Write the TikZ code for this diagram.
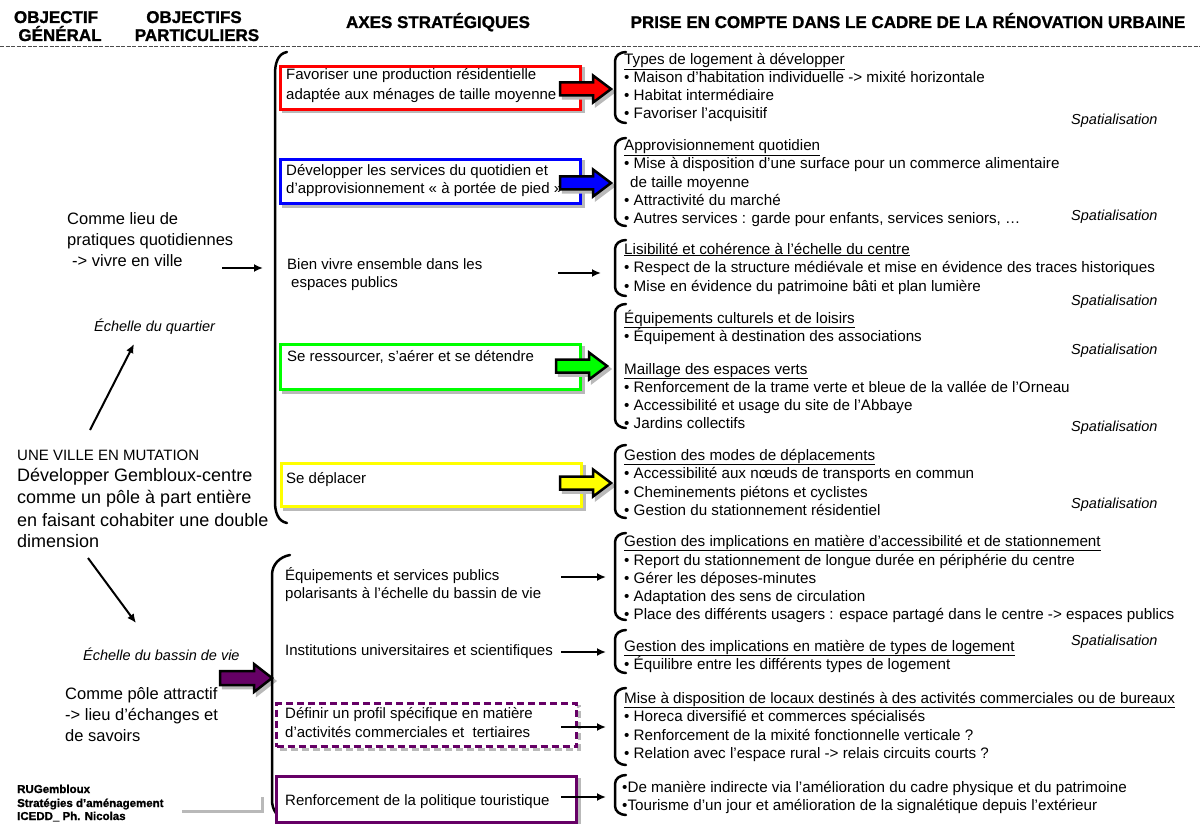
\documentclass[tikz,border=0pt]{standalone}
\usepackage{fontspec}
\setmainfont{Liberation Sans}
\usetikzlibrary{arrows.meta,calc}
\definecolor{pur}{RGB}{102,0,102}
\definecolor{shd}{RGB}{185,185,185}
\definecolor{grn}{RGB}{0,255,0}
\definecolor{yel}{RGB}{255,255,0}
\definecolor{rd}{RGB}{255,0,0}
\definecolor{bl}{RGB}{0,0,255}
\newcommand\tl[5]{\node[#1] (#2) at (#3,#4) {#5};}
\newcommand\brkt[4]{\draw[brk] (#2,#3) to[out=180,in=90] (#1,#3+9) -- (#1,#4-9) to[out=-90,in=180] (#2,#4);}
\newcommand\fatarr[4]{%
 \coordinate (#1) at (#2,#3);
 \filldraw[shd,line width=2.5pt,line join=miter] ([shift={(3,3)}]#1) ++(0,-6.5) -- ++(33,0) -- ++(0,-7) -- ++(18,13.5) -- ++(-18,13.5) -- ++(0,-7) -- ++(-33,0) -- cycle;
 \draw[line width=2.5pt,line join=miter,fill=#4] (#1) ++(0,-6.5) -- ++(33,0) -- ++(0,-7) -- ++(18,13.5) -- ++(-18,13.5) -- ++(0,-7) -- ++(-33,0) -- cycle;}
\newcommand\cbox[7]{% name, x1,y1,x2,y2, colour, extra style
 \path (#2,#3) coordinate (#1nw) (#4,#5) coordinate (#1se);
 \draw[shd,line width=3pt,#7] ([shift={(4,4)}]#1nw) rectangle ([shift={(4,4)}]#1se);
 \node[inner sep=0pt,anchor=north west,minimum width=#4-#2,minimum height=#5-#3,fill=white,line width=3pt,draw=#6,#7] (#1) at (#1nw) {};}
\begin{document}
\begin{tikzpicture}[x=1pt,y=-1pt,
 rtxt/.style={anchor=base west,inner sep=0pt,font=\fontsize{15.2}{17}\selectfont},
 mtxt/.style={anchor=base west,inner sep=0pt,font=\fontsize{15}{17}\selectfont},
 ltxt/.style={anchor=base west,inner sep=0pt,font=\fontsize{16.5}{19}\selectfont},
 btxt/.style={anchor=base west,inner sep=0pt,font=\fontsize{18}{21}\selectfont},
 itxt/.style={anchor=base west,inner sep=0pt,font=\fontsize{14.5}{17}\selectfont\itshape},
 spat/.style={anchor=base west,inner sep=0pt,font=\fontsize{14.5}{17}\selectfont\itshape},
 ftxt/.style={anchor=base west,inner sep=0pt,font=\fontsize{11.5}{13}\selectfont\bfseries\addfontfeature{FakeBold=1.2}},
 hdr/.style={anchor=base,inner sep=0pt,font=\fontsize{17}{19}\selectfont\bfseries\addfontfeature{FakeBold=1.2}},
 thinarr/.style={line width=2pt,-{Latex[length=9pt,width=8pt]}},
 brk/.style={line width=2.5pt,line cap=round},
]
\useasboundingbox (0,0) rectangle (1200,824);
% headers
\tl{hdr}{h1a}{56}{23}{OBJECTIF}
\tl{hdr}{h1b}{60}{41}{GÉNÉRAL}
\tl{hdr}{h2a}{194}{23}{OBJECTIFS}
\tl{hdr}{h2b}{197}{41}{PARTICULIERS}
\tl{hdr}{h3}{438}{28}{AXES STRATÉGIQUES}
\tl{hdr}{h4}{908}{28}{PRISE EN COMPTE DANS LE CADRE DE LA RÉNOVATION URBAINE}
\coordinate (dl1) at (0,47); \coordinate (dl2) at (1200,47);
\draw[line width=1pt,black!70,dash pattern=on 4pt off 1.5pt] (dl1) -- (dl2);

% left column
\tl{ltxt}{c1a}{67}{224}{Comme lieu de}
\tl{ltxt}{c1b}{67}{245}{pratiques quotidiennes}
\tl{ltxt}{c1c}{72}{266}{-> vivre en ville}
\tl{itxt}{eq}{94}{331}{Échelle du quartier}
\tl{anchor=base west,inner sep=0pt,font=\fontsize{15}{17}\selectfont}{uv}{17}{460}{UNE VILLE EN MUTATION}
\tl{btxt}{g1}{17}{481}{Développer Gembloux-centre}
\tl{btxt}{g2}{17}{503}{comme un pôle à part entière}
\tl{btxt}{g3}{17}{526}{en faisant cohabiter une double}
\tl{btxt}{g4}{17}{547}{dimension}
\tl{itxt}{eb}{83}{660}{Échelle du bassin de vie}
\tl{ltxt}{c2a}{65}{699}{Comme pôle attractif}
\tl{ltxt}{c2b}{65}{720}{-> lieu d’échanges et}
\tl{ltxt}{c2c}{65}{741}{de savoirs}
\tl{ftxt}{f1}{17}{793}{RUGembloux}
\tl{ftxt}{f2}{17}{807}{Stratégies d’aménagement}
\tl{ftxt}{f3}{17}{820}{ICEDD\_ Ph. Nicolas}
\coordinate (gl1) at (182,811); \coordinate (gl2) at (262,811); \coordinate (gl3) at (262,797);
\draw[shd,line width=3pt] (gl1) -- (gl2) -- (gl3);

% left arrows
\coordinate (la1s) at (222,268); \coordinate (la1e) at (263,268);
\draw[thinarr] (la1s) -- (la1e);
\coordinate (la2s) at (90,430); \coordinate (la2e) at (134,344);
\draw[thinarr] (la2s) -- (la2e);
\coordinate (la3s) at (88,558); \coordinate (la3e) at (136,623);
\draw[thinarr] (la3s) -- (la3e);
% purple fat arrow
\coordinate (pa) at (220,678);
\filldraw[shd,line width=2.5pt,line join=miter] ([shift={(3,3)}]pa) ++(0,-7) -- ++(34,0) -- ++(0,-7) -- ++(18,14) -- ++(-18,14) -- ++(0,-7) -- ++(-34,0) -- cycle;
\draw[line width=2.5pt,line join=miter,fill=pur] (pa) ++(0,-7) -- ++(34,0) -- ++(0,-7) -- ++(18,14) -- ++(-18,14) -- ++(0,-7) -- ++(-34,0) -- cycle;

% big brackets
\draw[brk] (287,52) to[out=190,in=90] (275,74) -- (275,502) to[out=-90,in=170] (287,523);
\draw[brk] (290,555) to[out=190,in=90] (272,575) -- (272,800) to[out=-90,in=170] (287,820);

% boxes
\cbox{bx1}{279}{65}{579}{108}{rd}{}
\cbox{bx2}{279}{158}{579}{202}{bl}{}
\cbox{bx4}{279}{343}{579}{388}{grn}{}
\cbox{bx5}{280}{462}{580}{505}{yel}{}
\cbox{bx8}{275}{702}{575}{745}{pur}{dash pattern=on 7pt off 4pt}
\cbox{bx9}{275}{775}{575}{821}{pur}{}

% middle texts
\tl{mtxt}{m1a}{286}{79.5}{Favoriser une production résidentielle}
\tl{mtxt}{m1b}{286}{99.5}{adaptée aux ménages de taille moyenne}
\tl{mtxt}{m2a}{286}{175.5}{Développer les services du quotidien et}
\tl{mtxt}{m2b}{286}{193.5}{d’approvisionnement « à portée de pied »}
\tl{mtxt}{m3a}{287}{269.5}{Bien vivre ensemble dans les}
\tl{mtxt}{m3b}{291}{287.5}{espaces publics}
\tl{mtxt}{m4}{287}{361.5}{Se ressourcer, s’aérer et se détendre}
\tl{mtxt}{m5}{286}{483.5}{Se déplacer}
\tl{mtxt}{m6a}{285}{580.5}{Équipements et services publics}
\tl{mtxt}{m6b}{285}{598.5}{polarisants à l’échelle du bassin de vie}
\tl{mtxt}{m7}{285}{655.5}{Institutions universitaires et scientifiques}
\tl{mtxt}{m8a}{285}{718.5}{Définir un profil spécifique en matière}
\tl{mtxt}{m8b}{285}{737.5}{d’activités commerciales et\ \ tertiaires}
\tl{mtxt}{m9}{285}{805.5}{Renforcement de la politique touristique}

% fat arrows
\fatarr{fa1}{560}{89}{rd}
\fatarr{fa2}{560}{183}{bl}
\fatarr{fa4}{556}{366}{grn}
\fatarr{fa5}{560}{483}{yel}

% thin arrows middle
\coordinate (ta3s) at (558,273); \coordinate (ta3e) at (601,273);
\draw[thinarr] (ta3s) -- (ta3e);
\coordinate (ta6s) at (561,577); \coordinate (ta6e) at (606,577);
\draw[thinarr] (ta6s) -- (ta6e);
\coordinate (ta7s) at (561,652); \coordinate (ta7e) at (606,652);
\draw[thinarr] (ta7s) -- (ta7e);
\coordinate (ta8s) at (561,727); \coordinate (ta8e) at (606,727);
\draw[thinarr] (ta8s) -- (ta8e);
\coordinate (ta9s) at (561,797); \coordinate (ta9e) at (606,797);
\draw[thinarr] (ta9s) -- (ta9e);

% right brackets
\brkt{615}{626}{52}{123}
\brkt{615}{626}{138}{226}
\brkt{615}{626}{240}{296}
\brkt{615}{626}{304}{428}
\brkt{615}{626}{445}{518}
\brkt{615}{626}{533}{620}
\brkt{615}{626}{630}{673}
\brkt{615}{626}{688}{765}
\brkt{615}{626}{775}{815}

% right texts
\tl{rtxt}{r1a}{624}{65}{\underline{Types de logement à développer}}
\tl{rtxt}{r1b}{624}{83}{• Maison d’habitation individuelle -> mixité horizontale}
\tl{rtxt}{r1c}{624}{101}{• Habitat intermédiaire}
\tl{rtxt}{r1d}{624}{119}{• Favoriser l’acquisitif}
\tl{rtxt}{r2a}{624}{151}{\underline{Approvisionnement quotidien}}
\tl{rtxt}{r2b}{624}{169}{• Mise à disposition d’une surface pour un commerce alimentaire}
\tl{rtxt}{r2c}{630}{187}{de taille moyenne}
\tl{rtxt}{r2d}{624}{205}{• Attractivité du marché}
\tl{rtxt}{r2e}{624}{223}{• Autres services : garde pour enfants, services seniors, …}
\tl{rtxt}{r3a}{624}{254}{\underline{Lisibilité et cohérence à l’échelle du centre}}
\tl{rtxt}{r3b}{624}{272}{• Respect de la structure médiévale et mise en évidence des traces historiques}
\tl{rtxt}{r3c}{624}{291}{• Mise en évidence du patrimoine bâti et plan lumière}
\tl{rtxt}{r4a}{624}{323}{\underline{Équipements culturels et de loisirs}}
\tl{rtxt}{r4b}{624}{341}{• Équipement à destination des associations}
\tl{rtxt}{r4c}{624}{374}{\underline{Maillage des espaces verts}}
\tl{rtxt}{r4d}{624}{392}{• Renforcement de la trame verte et bleue de la vallée de l’Orneau}
\tl{rtxt}{r4e}{624}{410}{• Accessibilité et usage du site de l’Abbaye}
\tl{rtxt}{r4f}{624}{428}{• Jardins collectifs}
\tl{rtxt}{r5a}{624}{460}{\underline{Gestion des modes de déplacements}}
\tl{rtxt}{r5b}{624}{478}{• Accessibilité aux nœuds de transports en commun}
\tl{rtxt}{r5c}{624}{497}{• Cheminements piétons et cyclistes}
\tl{rtxt}{r5d}{624}{515}{• Gestion du stationnement résidentiel}
\tl{rtxt}{r6a}{624}{546}{\underline{Gestion des implications en matière d’accessibilité et de stationnement}}
\tl{rtxt}{r6b}{624}{565}{• Report du stationnement de longue durée en périphérie du centre}
\tl{rtxt}{r6c}{624}{583}{• Gérer les déposes-minutes}
\tl{rtxt}{r6d}{624}{601}{• Adaptation des sens de circulation}
\tl{rtxt}{r6e}{624}{619}{• Place des différents usagers : espace partagé dans le centre -> espaces publics}
\tl{rtxt}{r7a}{624}{651}{\underline{Gestion des implications en matière de types de logement}}
\tl{rtxt}{r7b}{624}{669}{• Équilibre entre les différents types de logement}
\tl{rtxt}{r8a}{624}{703}{\underline{Mise à disposition de locaux destinés à des activités commerciales ou de bureaux}}
\tl{rtxt}{r8b}{624}{721}{• Horeca diversifié et commerces spécialisés}
\tl{rtxt}{r8c}{624}{740}{• Renforcement de la mixité fonctionnelle verticale ?}
\tl{rtxt}{r8d}{624}{758}{• Relation avec l’espace rural -> relais circuits courts ?}
\tl{rtxt}{r9a}{622}{792}{•De manière indirecte via l’amélioration du cadre physique et du patrimoine}
\tl{rtxt}{r9b}{622}{810}{•Tourisme d’un jour et amélioration de la signalétique depuis l’extérieur}

% spatialisation
\tl{spat}{s1}{1071}{125}{Spatialisation}
\tl{spat}{s2}{1071}{220}{Spatialisation}
\tl{spat}{s3}{1071}{305}{Spatialisation}
\tl{spat}{s4}{1071}{354}{Spatialisation}
\tl{spat}{s5}{1071}{431}{Spatialisation}
\tl{spat}{s6}{1071}{508}{Spatialisation}
\tl{spat}{s7}{1071}{645}{Spatialisation}
\end{tikzpicture}
\end{document}
